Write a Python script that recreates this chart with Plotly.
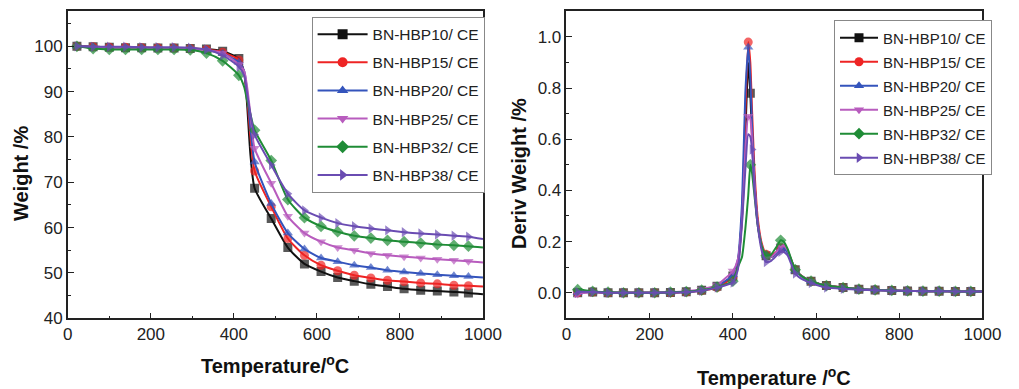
import plotly.graph_objects as go

# ---------------- data ----------------
series_names = ["BN-HBP10/ CE", "BN-HBP15/ CE", "BN-HBP20/ CE",
                "BN-HBP25/ CE", "BN-HBP32/ CE", "BN-HBP38/ CE"]
colors = ["#111111", "#EE2424", "#3454BC", "#B85CBE", "#1F8C36", "#6A4CB2"]
symbols = ["square", "circle", "triangle-up", "triangle-down", "diamond", "triangle-right"]

# TGA (left) temperature grid, degC
tga_T = [22, 61, 100, 139, 178, 217, 256, 295, 334, 373, 412, 425, 432, 440, 450,
         490, 530, 570, 610, 650, 690, 730, 770, 810, 850, 890, 930, 965, 1000]
# points on the grid that carry a marker (1) or are line only (0)
tga_mark = [1, 1, 1, 1, 1, 1, 1, 1, 1, 1, 1, 0, 0, 0, 1,
            1, 1, 1, 1, 1, 1, 1, 1, 1, 1, 1, 1, 1, 0]

tga_W10 = [100, 99.9, 99.8, 99.7, 99.7, 99.6, 99.6, 99.5, 99.4, 98.9, 97.3, 94.0, 87.0, 76.0, 68.7,
           62.0, 55.6, 52.0, 50.3, 49.0, 48.2, 47.5, 47.0, 46.5, 46.2, 46.0, 45.8, 45.6, 45.3]
tga_W15 = [100, 99.9, 99.8, 99.8, 99.7, 99.7, 99.6, 99.5, 99.3, 98.7, 97.0, 94.0, 89.0, 80.0, 72.5,
           64.6, 57.6, 53.9, 51.7, 50.5, 49.5, 48.9, 48.4, 48.1, 47.8, 47.6, 47.3, 47.2, 47.0]
tga_W20 = [100, 99.9, 99.8, 99.7, 99.7, 99.6, 99.6, 99.5, 99.2, 98.4, 96.5, 94.5, 90.0, 82.0, 74.5,
           65.3, 58.8, 55.3, 53.3, 52.5, 51.7, 51.2, 50.6, 50.2, 49.9, 49.6, 49.4, 49.2, 49.0]
tga_W25 = [100, 99.7, 99.6, 99.6, 99.5, 99.5, 99.5, 99.4, 99.1, 98.5, 96.0, 94.5, 91.0, 85.0, 77.5,
           69.8, 62.5, 58.8, 56.9, 55.6, 55.0, 54.3, 53.9, 53.6, 53.3, 53.0, 52.8, 52.6, 52.3]
tga_W32 = [100, 99.5, 99.3, 99.3, 99.3, 99.3, 99.3, 99.2, 98.5, 96.8, 93.6, 91.0, 88.0, 85.0, 81.5,
           74.8, 66.2, 62.2, 60.3, 59.1, 58.2, 57.7, 57.2, 56.9, 56.6, 56.3, 56.1, 55.9, 55.6]
tga_W38 = [100, 99.9, 99.9, 99.9, 99.8, 99.8, 99.8, 99.7, 99.3, 98.0, 95.5, 93.5, 89.5, 85.0, 80.5,
           73.8, 67.5, 63.8, 62.2, 61.0, 60.3, 59.8, 59.4, 59.0, 58.7, 58.5, 58.2, 58.0, 57.5]
tga_W = [tga_W10, tga_W15, tga_W20, tga_W25, tga_W32, tga_W38]

# DTG (right) temperature grid, degC
dtg_T = [20, 27, 63, 100, 137, 174, 212, 250, 288, 325,
         362, 400, 412, 422, 430, 437, 442, 446, 452, 460,
         470, 480, 492, 505, 515, 522, 532, 550, 570, 588,
         625, 665, 703, 742, 782, 820, 857, 896, 935, 972, 1000]
dtg_mark_common = [0, 1, 1, 1, 1, 1, 1, 1, 1, 1,
                   1, 1, 0, 0, 0, 0, 0, 0, 0, 0,
                   0, 1, 0, 0, 1, 0, 0, 1, 0, 1,
                   1, 1, 1, 1, 1, 1, 1, 1, 1, 1, 0]
dtg_peak_marker_T = [442, 437, 437, 437, 442, 446]

dtg_D10 = [-0.005, 0.0, 0.003, 0.0, 0.0, 0.0, 0.0, 0.001, 0.004, 0.010,
           0.025, 0.065, 0.12, 0.30, 0.62, 0.90, 0.78, 0.62, 0.43, 0.27,
           0.18, 0.145, 0.14, 0.155, 0.175, 0.18, 0.16, 0.09, 0.06, 0.045,
           0.028, 0.020, 0.014, 0.011, 0.009, 0.007, 0.006, 0.006, 0.005, 0.005, 0.005]
dtg_D15 = [-0.005, 0.0, 0.003, 0.0, 0.0, 0.0, 0.0, 0.0, 0.003, 0.008,
           0.020, 0.060, 0.11, 0.30, 0.70, 0.98, 0.90, 0.72, 0.48, 0.29,
           0.19, 0.15, 0.145, 0.16, 0.175, 0.18, 0.16, 0.09, 0.06, 0.045,
           0.028, 0.020, 0.014, 0.011, 0.009, 0.007, 0.006, 0.006, 0.005, 0.005, 0.005]
dtg_D20 = [-0.005, 0.0, 0.003, 0.0, 0.0, 0.0, 0.0, 0.001, 0.004, 0.010,
           0.025, 0.070, 0.13, 0.35, 0.78, 0.96, 0.84, 0.66, 0.44, 0.27,
           0.18, 0.145, 0.14, 0.155, 0.17, 0.175, 0.155, 0.085, 0.058, 0.043,
           0.027, 0.019, 0.014, 0.011, 0.009, 0.007, 0.006, 0.006, 0.005, 0.005, 0.005]
dtg_D25 = [-0.018, -0.005, 0.003, 0.0, 0.0, 0.0, 0.0, 0.002, 0.006, 0.014,
           0.030, 0.085, 0.13, 0.28, 0.55, 0.69, 0.68, 0.60, 0.42, 0.27,
           0.18, 0.14, 0.14, 0.16, 0.18, 0.185, 0.165, 0.09, 0.06, 0.045,
           0.028, 0.020, 0.014, 0.011, 0.009, 0.007, 0.006, 0.006, 0.005, 0.005, 0.005]
dtg_D32 = [0.0, 0.012, 0.005, 0.002, 0.0, 0.0, 0.0, 0.002, 0.004, 0.010,
           0.022, 0.045, 0.10, 0.14, 0.25, 0.38, 0.50, 0.47, 0.38, 0.26,
           0.18, 0.145, 0.15, 0.18, 0.205, 0.20, 0.17, 0.09, 0.06, 0.045,
           0.028, 0.020, 0.014, 0.011, 0.009, 0.007, 0.006, 0.006, 0.005, 0.005, 0.005]
dtg_D38 = [-0.005, 0.003, 0.003, 0.0, 0.0, 0.0, 0.0, 0.001, 0.003, 0.008,
           0.020, 0.040, 0.09, 0.27, 0.48, 0.62, 0.61, 0.56, 0.40, 0.26,
           0.16, 0.12, 0.125, 0.145, 0.16, 0.16, 0.145, 0.075, 0.05, 0.038,
           0.020, 0.015, 0.012, 0.010, 0.008, 0.007, 0.006, 0.006, 0.005, 0.005, 0.005]
dtg_D = [dtg_D10, dtg_D15, dtg_D20, dtg_D25, dtg_D32, dtg_D38]

# ---------------- figure ----------------
FONT = "Liberation Sans, Arial, sans-serif"
fig = go.Figure()

for i, name in enumerate(series_names):
    sizes = [9 if m else 0 for m in tga_mark]
    fig.add_trace(go.Scatter(
        x=tga_T, y=tga_W[i], name=name, mode="lines+markers", showlegend=False,
        line=dict(color=colors[i], width=2, shape="spline", smoothing=0.6),
        marker=dict(symbol=symbols[i], size=sizes, color=colors[i], line=dict(width=0)),
        xaxis="x", yaxis="y", legendgroup="a%d" % i,
    ))
    # legend entry
    fig.add_trace(go.Scatter(
        x=[None], y=[None], name=name, mode="lines+markers", showlegend=True,
        line=dict(color=colors[i], width=2),
        marker=dict(symbol=symbols[i], size=10, color=colors[i], line=dict(width=0)),
        xaxis="x", yaxis="y", legend="legend", legendgroup="a%d" % i,
    ))

for i, name in enumerate(series_names):
    sizes = []
    for t, m in zip(dtg_T, dtg_mark_common):
        sizes.append(9 if (m or t == dtg_peak_marker_T[i]) else 0)
    fig.add_trace(go.Scatter(
        x=dtg_T, y=dtg_D[i], name=name, mode="lines+markers", showlegend=False,
        line=dict(color=colors[i], width=2, shape="spline", smoothing=0.5),
        marker=dict(symbol=symbols[i], size=sizes, color=colors[i], line=dict(width=0)),
        xaxis="x2", yaxis="y2", legendgroup="b%d" % i,
    ))
    fig.add_trace(go.Scatter(
        x=[None], y=[None], name=name, mode="lines+markers", showlegend=True,
        line=dict(color=colors[i], width=2),
        marker=dict(symbol=symbols[i], size=9, color=colors[i], line=dict(width=0)),
        xaxis="x2", yaxis="y2", legend="legend2", legendgroup="b%d" % i,
    ))

W, H = 1019, 389
def px_x(p):
    return p / W
def px_y(p):
    return 1 - p / H

axis_common = dict(
    showline=True, linecolor="#222222", linewidth=1.5, mirror=True,
    ticks="inside", ticklen=6, tickwidth=1.2, tickcolor="#222222",
    showgrid=False, zeroline=False,
    tickfont=dict(family=FONT, size=17, color="#222222"),
)

fig.update_layout(
    width=W, height=H, margin=dict(l=0, r=0, t=0, b=0),
    paper_bgcolor="white", plot_bgcolor="white",
    font=dict(family=FONT, color="#222222"),
    xaxis=dict(domain=[px_x(64.3), px_x(489.5)], range=[0, 1000], dtick=200, anchor="y",
               minor=dict(dtick=100, ticks="inside", ticklen=3, tickcolor="#222222"),
               **axis_common),
    yaxis=dict(domain=[px_y(326.7), px_y(11.7)], range=[40, 107.7], dtick=10, anchor="x",
               minor=dict(dtick=5, ticks="inside", ticklen=3, tickcolor="#222222"),
               **axis_common),
    xaxis2=dict(domain=[px_x(575), px_x(1001)], range=[0, 1000], dtick=200, anchor="y2",
                minor=dict(dtick=100, ticks="inside", ticklen=3, tickcolor="#222222"),
                **axis_common),
    yaxis2=dict(domain=[px_y(326.7), px_y(11.7)], range=[-0.1, 1.1], dtick=0.2, anchor="x2",
                tickformat=".1f",
                minor=dict(dtick=0.1, ticks="inside", ticklen=3, tickcolor="#222222"),
                **axis_common),
    legend=dict(x=px_x(314), y=px_y(17), xanchor="left", yanchor="top",
                bordercolor="#888888", borderwidth=1, bgcolor="white",
                traceorder="grouped", tracegroupgap=5, itemwidth=50,
                font=dict(family=FONT, size=15.5, color="#222222")),
    legend2=dict(x=px_x(849), y=px_y(21), xanchor="left", yanchor="top",
                 bordercolor="#888888", borderwidth=1, bgcolor="white",
                 traceorder="grouped", tracegroupgap=1.5, itemwidth=38,
                 font=dict(family=FONT, size=15, color="#222222")),
    showlegend=True,
)

title_font = dict(family=FONT, size=20, color="#111111")
fig.add_annotation(text="<b>Temperature/<sup>o</sup>C</b>", xref="paper", yref="paper",
                   x=px_x(277), y=px_y(374), showarrow=False, font=title_font,
                   xanchor="center", yanchor="middle")
fig.add_annotation(text="<b>Weight /%</b>", xref="paper", yref="paper",
                   x=px_x(17), y=px_y(178), showarrow=False, font=title_font,
                   textangle=-90, xanchor="center", yanchor="middle")
fig.add_annotation(text="<b>Temperature /<sup>o</sup>C</b>", xref="paper", yref="paper",
                   x=px_x(788), y=px_y(386), showarrow=False, font=title_font,
                   xanchor="center", yanchor="middle")
fig.add_annotation(text="<b>Deriv Weight /%</b>", xref="paper", yref="paper",
                   x=px_x(527), y=px_y(178), showarrow=False, font=title_font,
                   textangle=-90, xanchor="center", yanchor="middle")

fig.write_html("out.html")
